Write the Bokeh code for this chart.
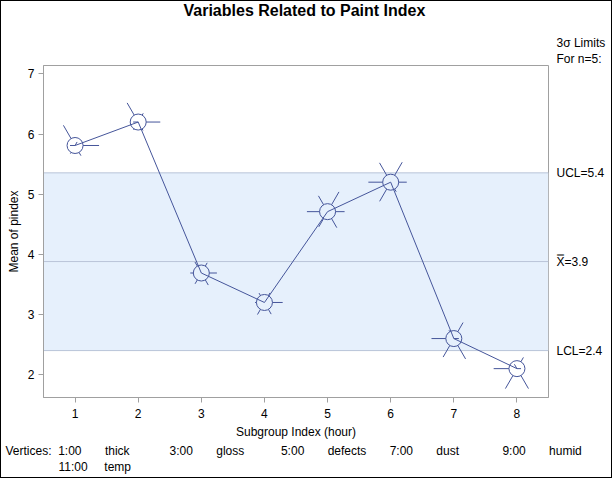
from bokeh.plotting import figure
from bokeh.models import BoxAnnotation, Span, Range1d, FixedTicker, LinearAxis, Title
from bokeh.embed import file_html
from bokeh.resources import INLINE
import math

# ---- data ----
subgroups = [1, 2, 3, 4, 5, 6, 7, 8]
means = [5.81, 6.20, 3.69, 3.20, 4.71, 5.20, 2.60, 2.10]
ucl = 5.355
center = 3.88
lcl = 2.40
limit_labels = {ucl: "UCL=5.4", center: "X\u033F=3.9", lcl: "LCL=2.4"}
y_ticks = [2, 3, 4, 5, 6, 7]

# star vertex variables (relative to the star's outer radius)
thick = [0.17, 0.42, 0.49, 0.46, 0.95, 0.96, 0.77, 0.54]
gloss = [1.00, 0.92, 0.65, 0.76, 0.71, 0.67, 0.21, 0.17]
defects = [0.49, 0.40, 0.58, 0.56, 0.77, 0.46, 0.98, 0.96]
dust = [0.39, 0.38, 0.52, 0.58, 0.73, 0.92, 0.89, 0.96]
humid = [0.21, 0.21, 0.46, 0.39, 0.86, 0.93, 0.93, 0.97]
temp = [0.97, 0.92, 0.53, 0.45, 0.76, 0.93, 0.40, 0.21]
vertex_vars = [thick, gloss, defects, dust, humid, temp]
vertex_names = ["thick", "gloss", "defects", "dust", "humid", "temp"]
vertex_clock = ["1:00", "3:00", "5:00", "7:00", "9:00", "11:00"]

# ---- style / layout ----
FONT = "Liberation Sans"
MARK = "#45559a"
GRAY = "#a0a0a0"
BAND = "#e6f0fc"
LIMIT = "#b9c4d8"
STAR_R = 24   # px, outer star radius
REF_R = 8     # px, reference circle radius
W, H = 612, 478
FL, FT, FR, FB = 42, 64, 547, 396   # frame box in figure pixels
X0, X1 = 0.5, 8.5
Y0, Y1 = 1.62, 7.14
PX_X = (FR - FL) / (X1 - X0)
PX_Y = (FB - FT) / (Y1 - Y0)
NB = "\u00a0"

p = figure(width=W, height=H, output_backend="svg", toolbar_location=None,
           title=None, x_range=Range1d(X0, X1), y_range=Range1d(Y0, Y1),
           min_border_left=FL, min_border_right=W - FR,
           min_border_top=FT, min_border_bottom=H - FB,
           background_fill_color="white", border_fill_color="white")
p.styles = {"border": "1px solid black"}

p.xgrid.visible = False
p.ygrid.visible = False
p.outline_line_color = GRAY
p.outline_line_width = 1

p.xaxis.ticker = FixedTicker(ticks=subgroups)
p.yaxis.ticker = FixedTicker(ticks=y_ticks)
for ax in (p.xaxis, p.yaxis):
    ax.axis_line_color = GRAY
    ax.major_tick_line_color = GRAY
    ax.major_tick_out = 5
    ax.major_tick_in = 0
    ax.minor_tick_line_color = None
    ax.major_label_text_font = FONT
    ax.major_label_text_font_size = "12px"
    ax.major_label_text_color = "black"
    ax.axis_label_text_font = FONT
    ax.axis_label_text_font_size = "12px"
    ax.axis_label_text_font_style = "normal"
    ax.axis_label_text_color = "black"
p.xaxis.axis_label = "Subgroup Index (hour)"
p.yaxis.axis_label = "Mean of pindex"
p.xaxis.major_label_standoff = 6
p.xaxis.axis_label_standoff = 4
p.yaxis.major_label_standoff = 4
p.yaxis.axis_label_standoff = 4

# right-hand limit labels as a tick-less axis
lim_axis = LinearAxis(ticker=FixedTicker(ticks=list(limit_labels.keys())),
                      major_label_overrides=limit_labels,
                      axis_line_color=None, major_tick_line_color=None,
                      minor_tick_line_color=None, major_tick_out=0,
                      major_tick_in=0, major_label_standoff=8,
                      major_label_text_font=FONT,
                      major_label_text_font_size="12px",
                      major_label_text_color="black")
p.add_layout(lim_axis, "right")

# control limit band and lines
p.add_layout(BoxAnnotation(bottom=lcl, top=ucl, fill_color=BAND, fill_alpha=1,
                           line_color=None, level="underlay"))
for v in (ucl, center, lcl):
    p.add_layout(Span(location=v, dimension="width", line_color=LIMIT,
                      line_width=1, level="underlay"))

# connecting line and reference circles
p.line(subgroups, means, line_color=MARK, line_width=1)
p.scatter(subgroups, means, size=2 * REF_R, fill_color=None, line_color=MARK,
          line_width=1)

# star rays at 1:00, 3:00, 5:00, 7:00, 9:00, 11:00
angles = [60, 0, -60, -120, 180, 120]
x0s, y0s, x1s, y1s = [], [], [], []
for var, ang in zip(vertex_vars, angles):
    c, s = math.cos(math.radians(ang)), math.sin(math.radians(ang))
    for x, y, v in zip(subgroups, means, var):
        L = v * STAR_R
        st = REF_R if L > REF_R else 0
        x0s.append(x + st * c / PX_X)
        y0s.append(y + st * s / PX_Y)
        x1s.append(x + L * c / PX_X)
        y1s.append(y + L * s / PX_Y)
p.segment(x0=x0s, y0=y0s, x1=x1s, y1=y1s, line_color=MARK, line_width=1)


def title(text, side, offset, size="12px", style="normal", standoff=0,
          valign="bottom"):
    p.add_layout(Title(text=text, align="left", offset=offset,
                       standoff=standoff, vertical_align=valign,
                       text_font=FONT, text_font_size=size,
                       text_font_style=style, text_color="black"), side)


# above: closest to frame first
title("For n=5:", "above", 555 - FL)
title("3\u03c3 Limits", "above", 555 - FL)
title(NB, "above", 0, size="1px", standoff=10)         # spacer
title("Variables Related to Paint Index", "above", 182 - FL, size="16px",
      style="bold", standoff=0, valign="top")

# below: vertices legend rows
row1_gaps = [2, 7, 12, 7, 11, 7, 7, 7, 13, 7]
row1_items = ["Vertices:"]
for k in range(5):
    row1_items += [vertex_clock[k], vertex_names[k]]
row1 = row1_items[0]
for g, item in zip(row1_gaps, row1_items[1:]):
    row1 += NB * g + item
row2 = vertex_clock[5] + NB * 5 + vertex_names[5]
title(row1, "below", 4 - FL)
title(row2, "below", 57 - FL)

open("out.html", "w").write(file_html(p, INLINE))
